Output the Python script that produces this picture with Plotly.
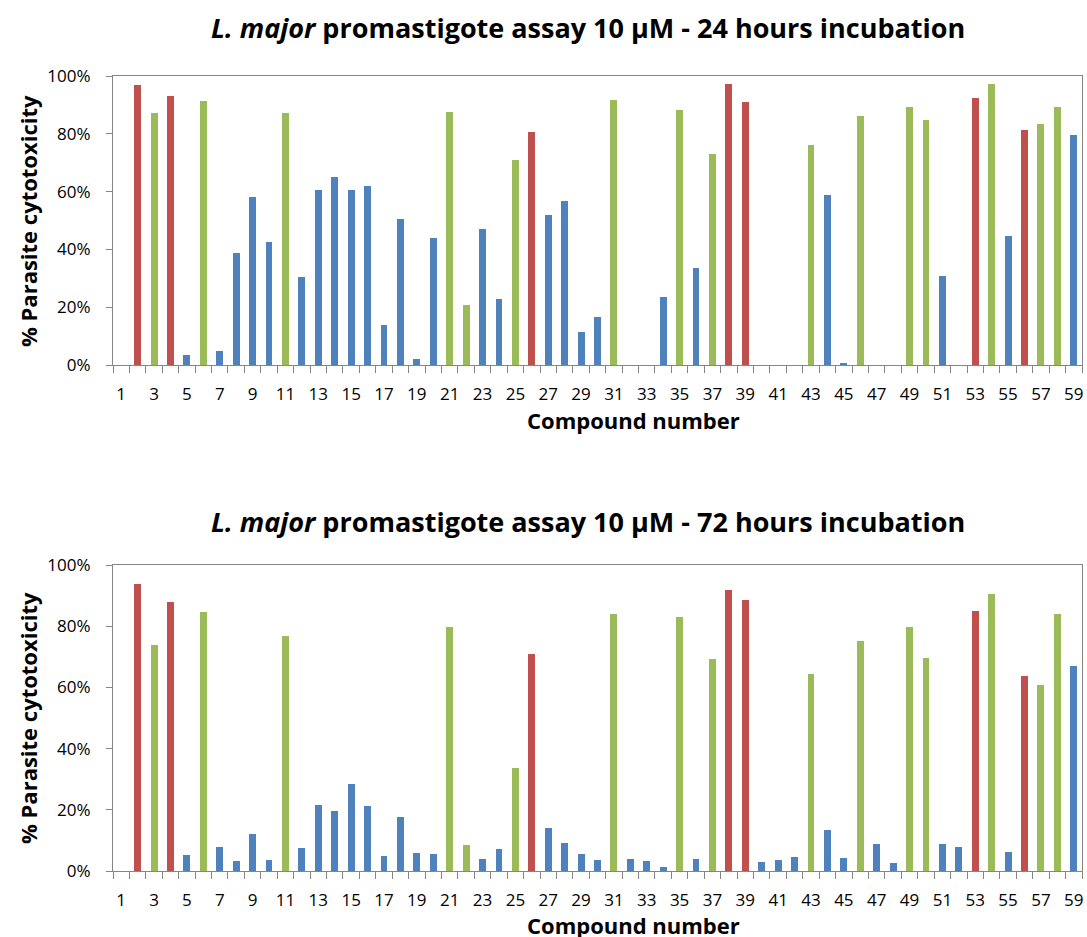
import plotly.graph_objects as go

compounds = list(range(1, 60))

# % parasite cytotoxicity, compound 1..59 (None = no bar)
tox_24h = [None, 96.9, 87.2, 93.1, 3.5, 91.4, 5.0, 38.7, 58.1, 42.4,
           87.2, 30.4, 60.6, 65.0, 60.5, 61.8, 13.8, 50.5, 2.1, 43.8,
           87.6, 20.9, 47.2, 22.8, 71.0, 80.6, 51.8, 56.6, 11.3, 16.5,
           91.7, -0.6, -0.6, 23.5, 88.2, 33.5, 73.0, 97.2, 91.0, -0.6,
           -0.6, -0.6, 76.2, 58.9, 0.8, 86.2, -0.6, -0.6, 89.3, 84.8,
           30.9, -0.6, 92.4, 97.2, 44.7, 81.3, 83.4, 89.3, 79.7]
tox_72h = [None, 93.7, 74.0, 87.8, 5.3, 84.5, 7.7, 3.3, 12.0, 3.5,
           76.7, 7.6, 21.7, 19.7, 28.5, 21.2, 5.0, 17.5, 5.9, 5.6,
           79.6, 8.4, 3.8, 7.1, 33.6, 70.8, 14.1, 9.0, 5.4, 3.7,
           83.9, 4.0, 3.2, 1.4, 82.9, 4.0, 69.2, 91.7, 88.5, 3.1,
           3.7, 4.5, 64.3, 13.5, 4.2, 75.1, 8.7, 2.5, 79.6, 69.5,
           8.7, 8.0, 84.9, 90.4, 6.2, 63.6, 60.7, 83.9, 67.0]

red_compounds = [2, 4, 26, 38, 39, 53, 56]
green_compounds = [3, 6, 11, 21, 22, 25, 31, 35, 37, 43, 46, 49, 50, 54, 57, 58]

x_tick_vals = list(range(1, 60, 2))
x_tick_text = [str(v) for v in x_tick_vals]
y_tick_vals = [0, 20, 40, 60, 80, 100]
y_tick_text = [f"{v}%" for v in y_tick_vals]

titles = ["<i>L. major</i> promastigote assay 10 µM - 24 hours incubation",
          "<i>L. major</i> promastigote assay 10 µM - 72 hours incubation"]
x_title = "Compound number"
y_title = "% Parasite cytotoxicity"

RED, GREEN, BLUE = "#C0504D", "#9BBB59", "#4F81BD"
FONT = "Open Sans"
AXIS = "#868686"

def colour(c):
    if c in red_compounds:
        return RED
    if c in green_compounds:
        return GREEN
    return BLUE

colors = [colour(c) for c in compounds]

fig = go.Figure()
for i, vals in enumerate([tox_24h, tox_72h]):
    ax = "" if i == 0 else "2"
    fig.add_trace(go.Bar(x=compounds, y=vals, marker=dict(color=colors, line=dict(width=0)),
                         width=0.42, xaxis="x" + ax, yaxis="y" + ax,
                         showlegend=False, cliponaxis=False))

W, H = 1087, 937
def dom(top_px, bot_px):
    return [1 - bot_px / H, 1 - top_px / H]

xdom = [113 / W, 1082 / W]
common_x = dict(range=[0.5, 59.5], tickmode="array", tickvals=x_tick_vals, ticktext=x_tick_text,
                ticks="outside", ticklen=13, tickcolor="rgba(0,0,0,0)", automargin=False,
                showline=True, linecolor=AXIS, linewidth=1.3, mirror=True,
                showgrid=False, zeroline=False,
                tickfont=dict(family=FONT, size=17, color="#000"),
                minor=dict(tickmode="linear", tick0=0.5, dtick=1, ticks="outside",
                           ticklen=7, tickcolor=AXIS, tickwidth=1.3, showgrid=False))
common_y = dict(range=[0, 100], tickmode="array", tickvals=y_tick_vals, ticktext=y_tick_text,
                ticks="outside", ticklen=6, tickcolor=AXIS, tickwidth=1.3, automargin=False,
                showline=True, linecolor=AXIS, linewidth=1.3, mirror=True,
                showgrid=False, zeroline=False, ticklabelstandoff=12,
                tickfont=dict(family=FONT, size=17, color="#000"))

fig.update_layout(
    width=W, height=H, margin=dict(l=0, r=0, t=0, b=0, autoexpand=False),
    paper_bgcolor="white", plot_bgcolor="white", bargap=0,
    xaxis=dict(domain=xdom, anchor="y", **common_x),
    yaxis=dict(domain=dom(76, 365), anchor="x", **common_y),
    xaxis2=dict(domain=xdom, anchor="y2", **common_x),
    yaxis2=dict(domain=dom(565, 871), anchor="x2", **common_y),
)

ann = []
for title, ty, xy, yy in [(titles[0], 27, 420, 221), (titles[1], 521, 925, 718)]:
    ann.append(dict(text="<b>" + title + "</b>", x=588 / W, y=1 - ty / H, xref="paper", yref="paper",
                    showarrow=False, xanchor="center", yanchor="middle",
                    font=dict(family=FONT, size=27, color="#000")))
    ann.append(dict(text="<b>" + x_title + "</b>", x=633 / W, y=1 - xy / H, xref="paper", yref="paper",
                    showarrow=False, xanchor="center", yanchor="middle",
                    font=dict(family=FONT, size=22, color="#000")))
    ann.append(dict(text="<b>" + y_title + "</b>", x=28 / W, y=1 - yy / H, xref="paper", yref="paper",
                    showarrow=False, xanchor="center", yanchor="middle", textangle=-90,
                    font=dict(family=FONT, size=22, color="#000")))
fig.update_layout(annotations=ann)

fig.write_html("out.html", config={"displayModeBar": False},
               post_script="document.body.style.margin='0';")
